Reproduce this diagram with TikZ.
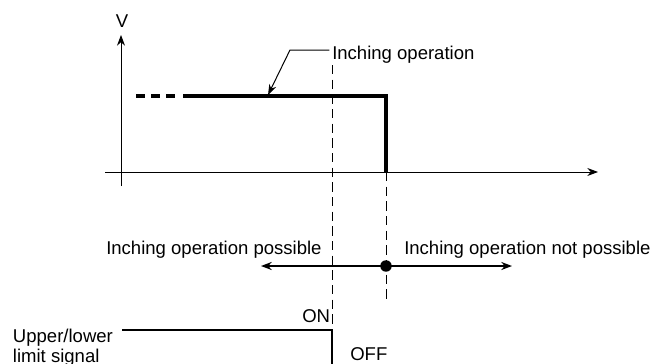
\documentclass[tikz,border=0pt]{standalone}
\usepackage{fontspec}
\setmainfont{Liberation Sans}
\usetikzlibrary{arrows.meta}
\tikzset{
  axis/.style={line width=0.75pt, -{Stealth[length=8pt,width=6pt]}},
  guide/.style={line width=0.75pt, dash pattern=on 7pt off 4pt},
  speed/.style={line width=3pt},
  spanarrow/.style={line width=1.5pt, {Stealth[length=8pt,width=6pt]}-{Stealth[length=8pt,width=6pt]}},
  lbl/.style={font=\fontsize{13.9}{16}\selectfont, inner sep=0pt, anchor=base west},
}

\begin{document}
\begin{tikzpicture}[x=0.75pt,y=-0.75pt]
  \useasboundingbox (0,0) rectangle (650,364);
  % axes
  \coordinate (Ybot) at (121,186);
  \coordinate (Ytop) at (121,35);
  \coordinate (Xl) at (105,172);
  \coordinate (Xr) at (598,172);
  \draw[axis] (Ybot) -- (Ytop);
  \draw[axis] (Xl) -- (Xr);
  \node[font=\fontsize{13.9}{16}\selectfont, inner sep=0pt] (vlab) at (122,21) {V};
  % speed profile
  \coordinate (S0) at (136,96);
  \coordinate (S1) at (181,96);
  \coordinate (S2) at (183,96);
  \coordinate (S3) at (386,96);
  \coordinate (S4) at (386,172);
  \draw[speed, dash pattern=on 6.75pt off 4.5pt] (S0) -- (S1);
  \draw[speed] (S2) -- (S3) -- (S4);
  % leader
  \node[lbl] (oplab) at (332,60) {Inching operation};
  \coordinate (L1) at (290,50);
  \coordinate (L2) at (268,95);
  \draw[line width=0.75pt, -{Stealth[length=8pt,width=5.5pt]}] ([xshift=-2pt]oplab.west |- L1) -- (L1) -- (L2);
  % guide lines
  \coordinate (G1t) at (332,65);
  \coordinate (G1b) at (332,329);
  \coordinate (G2b) at (386,299);
  \draw[guide] (G1t) -- (G1b);
  \draw[guide] (S4) -- (G2b);
  % possible / not possible
  \coordinate (Rl) at (261,266);
  \coordinate (Rr) at (512,266);
  \coordinate (dot) at (386,266);
  \draw[spanarrow] (Rl) -- (Rr);
  \fill (dot) circle (4.3pt);
  \node[lbl] (poss) at (106,254.5) {Inching operation possible};
  \node[lbl] (nposs) at (404,254.5) {Inching operation not possible};
  % limit signal
  \coordinate (Sl) at (122,330);
  \coordinate (Sc) at (332,330);
  \coordinate (Sb) at (332,364);
  \draw[line width=1.1pt] (Sl) -- (Sc) -- (Sb);
  \node[lbl] (on) at (302,322) {ON};
  \node[lbl] (off) at (350,360.5) {OFF};
  \node[lbl] (sig1) at (12.7,342) {Upper/lower};
  \node[lbl] (sig2) at (12.7,362) {limit signal};
\end{tikzpicture}
\end{document}
